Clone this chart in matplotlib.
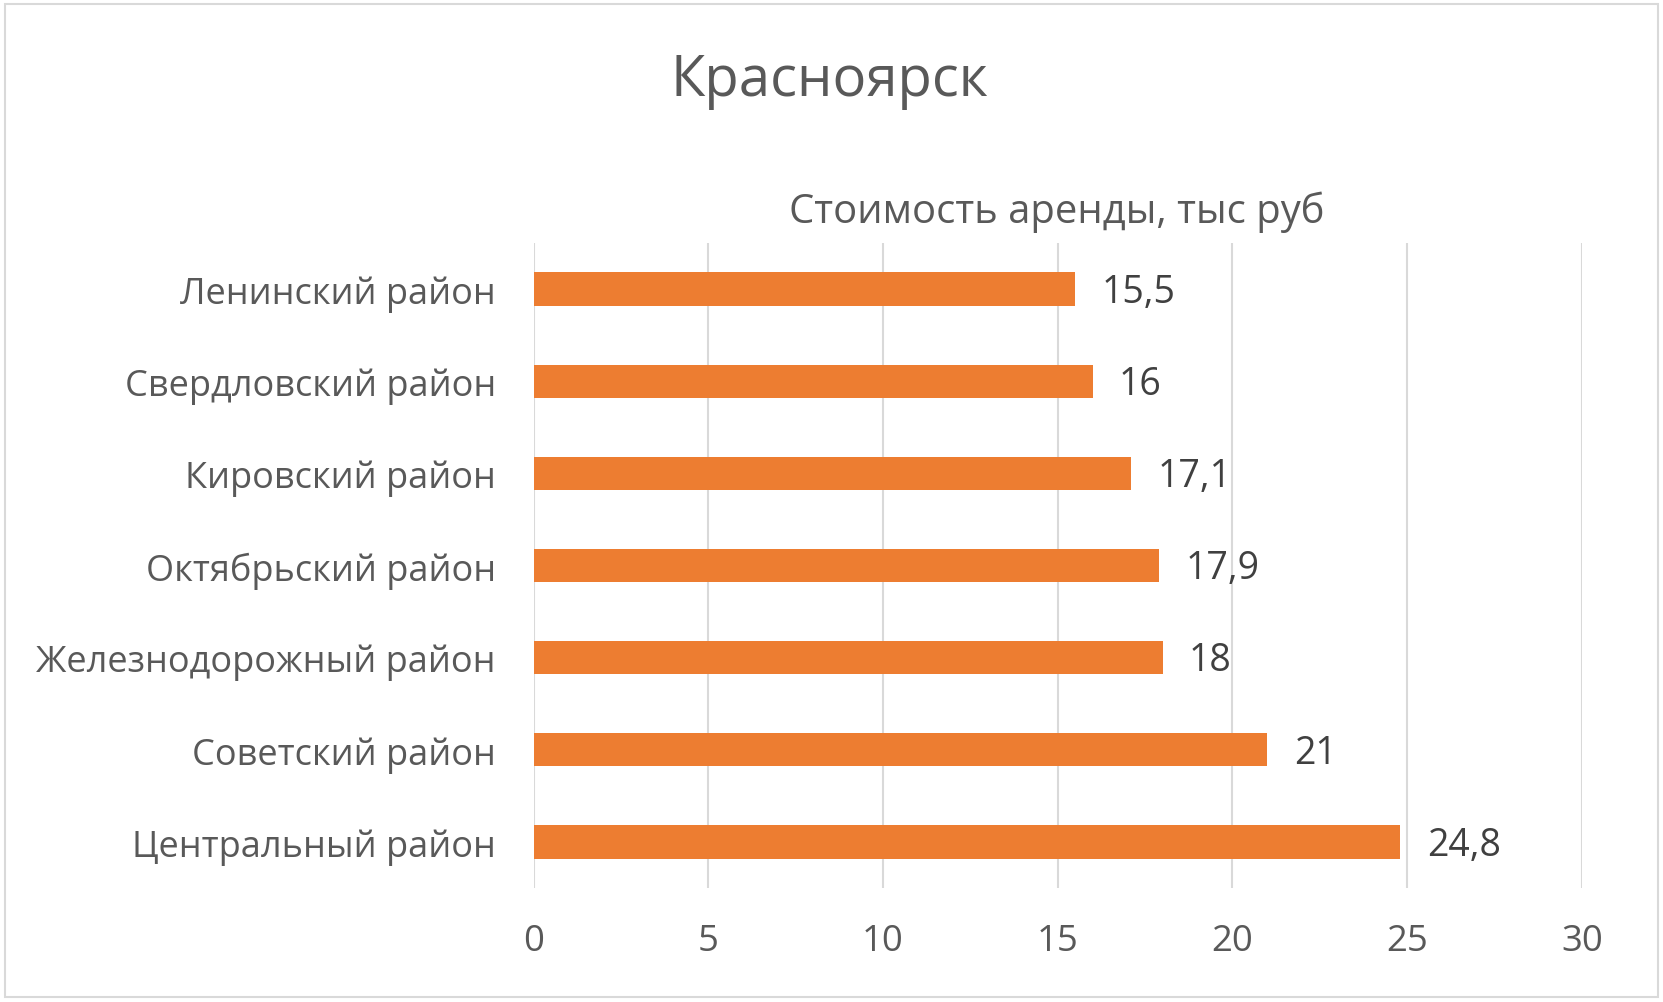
import matplotlib
matplotlib.use("Agg")
import matplotlib.pyplot as plt
from matplotlib.patches import Rectangle

plt.rcParams['font.family'] = ['Open Sans', 'DejaVu Sans']

categories = ["Ленинский район", "Свердловский район", "Кировский район",
              "Октябрьский район", "Железнодорожный район", "Советский район",
              "Центральный район"]
values = [15.5, 16, 17.1, 17.9, 18, 21, 24.8]
value_labels = ["15,5", "16", "17,1", "17,9", "18", "21", "24,8"]
xticks = [0, 5, 10, 15, 20, 25, 30]
title = "Красноярск"
subtitle = "Стоимость аренды, тыс руб"

W, H = 1663, 1003
fig = plt.figure(figsize=(W / 100, H / 100), dpi=100)
fig.patch.set_facecolor("white")

# outer frame
fig.patches.append(Rectangle((5 / W, 5 / H), (W - 10) / W, (H - 10) / H,
                             transform=fig.transFigure, fill=False,
                             edgecolor="#D9D9D9", linewidth=1.5))

left, right = 533.5 / W, 1582 / W
bottom, top = 1 - 889 / H, 1 - 244 / H
ax = fig.add_axes([left, bottom, right - left, top - bottom])

ypos = list(range(len(categories)))
ax.barh(ypos, values, height=0.36, color="#ED7D31", zorder=3)
ax.set_ylim(len(categories) - 0.5, -0.5)
ax.set_xlim(0, 30)

ax.set_xticks(xticks)
ax.set_xticklabels([str(t) for t in xticks])
ax.set_yticks(ypos)
ax.set_yticklabels(categories)
ax.tick_params(axis="x", length=0, labelsize=26.3, colors="#595959", pad=25)
ax.tick_params(axis="y", length=0, labelsize=26, colors="#595959", pad=27)
ax.xaxis.grid(True, color="#D9D9D9", linewidth=1.5, zorder=0)
for s in ax.spines.values():
    s.set_visible(False)

for y, v, lab in zip(ypos, values, value_labels):
    ax.annotate(lab, (v, y), xytext=(19, -2), textcoords="offset points",
                va="center", ha="left", fontsize=27, color="#404040")

fig.text(829 / W, 1 - 82 / H, title, ha="center", va="center",
         fontsize=40.5, color="#595959")
fig.text(1057 / W, 1 - 212 / H, subtitle, ha="center", va="center",
         fontsize=28.8, color="#595959")

fig.savefig("out.png", dpi=100, facecolor="white")
